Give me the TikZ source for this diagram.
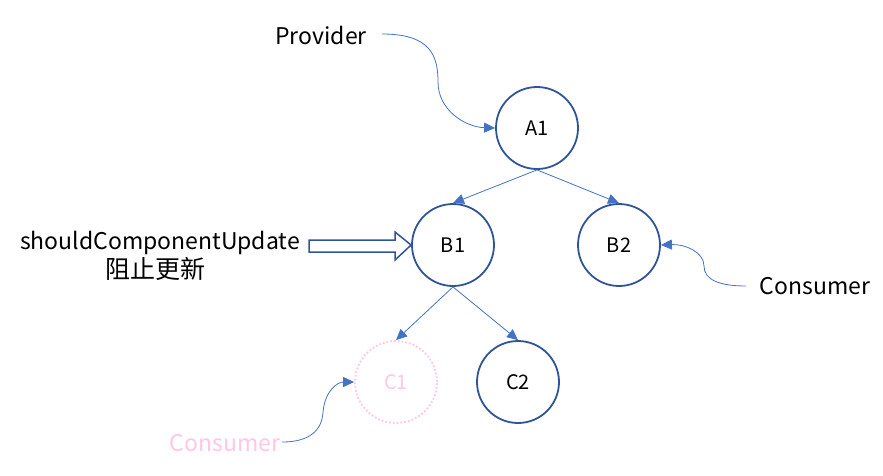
\documentclass[tikz,border=0pt]{standalone}
\usepackage{fontspec}
\setmainfont{Noto Sans CJK SC}
\usetikzlibrary{arrows.meta}
\definecolor{nodeblue}{HTML}{2F5597}
\definecolor{lineblue}{HTML}{4472C4}
\definecolor{ghostpink}{HTML}{FFC6E6}
\begin{document}
\begin{tikzpicture}[x=1pt,y=-1pt,
  comp/.style={circle,draw=nodeblue,line width=1.8pt,minimum size=82pt,inner sep=0pt,font=\fontsize{20}{24}\selectfont},
  ghost/.style={circle,draw=ghostpink,line width=1.8pt,dotted,minimum size=82pt,inner sep=0pt,text=ghostpink,font=\fontsize{20}{24}\selectfont},
  conn/.style={draw=lineblue,line width=0.8pt,-{Triangle[length=11pt,width=10pt]}},
  lbl/.style={font=\fontsize{23}{29}\selectfont,inner sep=0pt}]
\useasboundingbox (0,0) rectangle (883,475);
\node[comp] (A1) at (537,128) {A1};
\node[comp] (B1) at (453,245) {B1};
\node[comp] (B2) at (619,245) {B2};
\node[ghost] (C1) at (396,382) {C1};
\node[comp] (C2) at (518,382) {C2};

\draw[conn] (A1.south) -- (B1.north);
\draw[conn] (A1.south) -- (B2.north);
\draw[conn] (B1.south) -- (C1.north);
\draw[conn] (B1.south) -- (C2.north);

\node[lbl] (prov) at (321,35) {Provider};
\coordinate (provT) at (382,34);
\draw[conn] (provT) .. controls (430,34) and (438,55) .. (438,82) .. controls (438,110) and (465,127) .. (A1.west);

\node[lbl] (cons1) at (815,286) {Consumer};
\coordinate (cons1T) at (746,286);
\draw[conn] (cons1T) .. controls (720,286) and (704,280) .. (704,266) .. controls (704,252) and (685,244) .. (B2.east);

\node[lbl,text=ghostpink] (cons2) at (225,443) {Consumer};
\coordinate (cons2T) at (282,442);
\draw[conn] (cons2T) .. controls (310,442) and (322,430) .. (323,412) .. controls (325,390) and (338,382) .. (C1.west);

\node[lbl,align=center] (scu) at (160,256) {shouldComponentUpdate\\{\fontsize{25}{29}\selectfont 阻止更新\hspace*{10pt}}};
\draw[draw=nodeblue,line width=1.5pt,fill=white,line join=miter]
  (309,240) -- (395,240) -- (395,232) -- (B1.west) -- (395,260) -- (395,252) -- (309,252) -- cycle;
\end{tikzpicture}
\end{document}
